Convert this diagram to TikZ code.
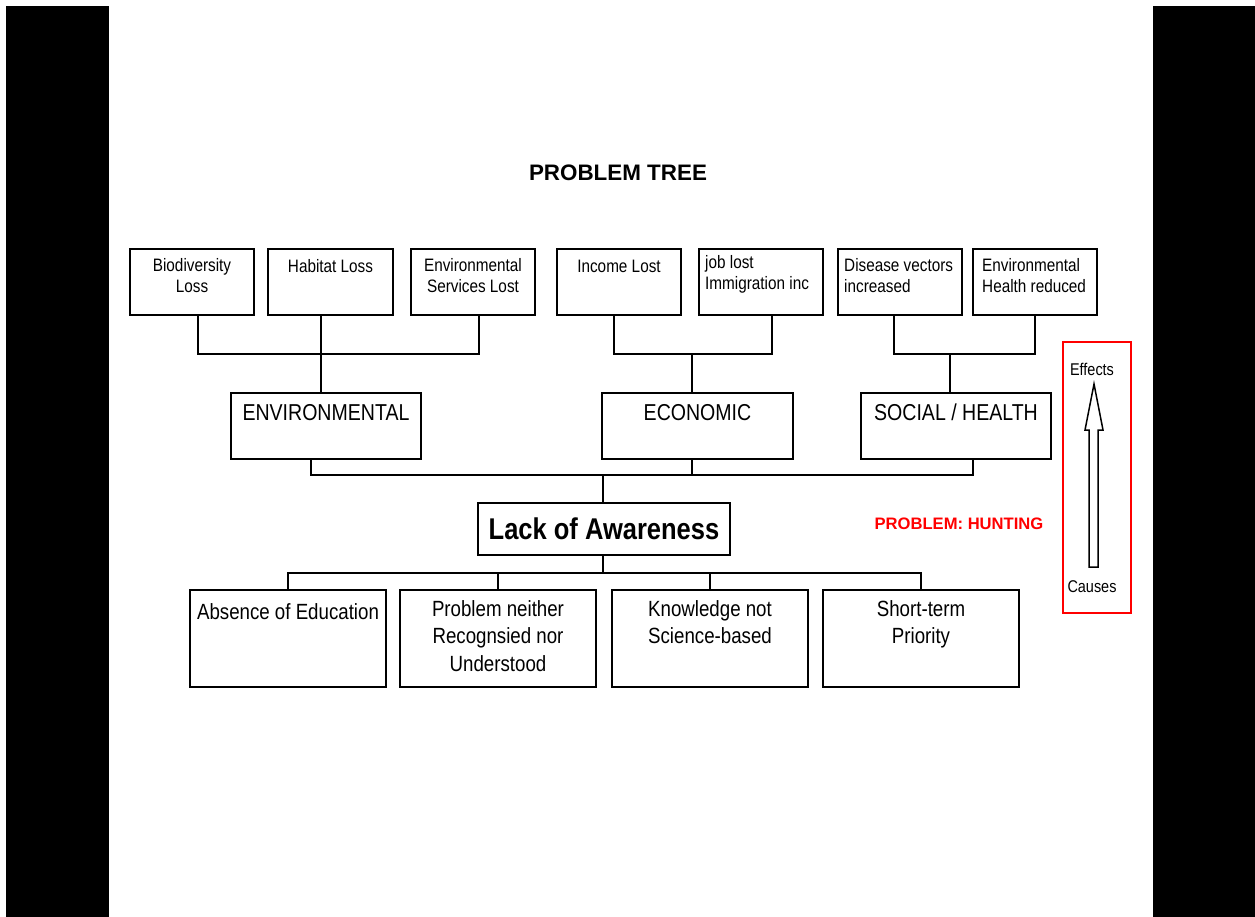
\documentclass[tikz,border=0pt]{standalone}
\usepackage{fontspec}
\setmainfont{Liberation Sans}
\newfontfamily\narrowfont{Liberation Sans}[FakeStretch=0.85]
\usepackage{tikz}
\usetikzlibrary{positioning}

\newcommand\toprowfont{\narrowfont\fontsize{18}{21}\selectfont}
\newcommand\midrowfont{\narrowfont\fontsize{23}{27}\selectfont}
\newcommand\lowrowfont{\narrowfont\fontsize{22}{27.5}\selectfont}

\tikzset{
  box/.style={draw, line width=2pt, inner sep=0pt},
  link/.style={line width=2pt},
  txt/.style={anchor=north, align=center, inner sep=0pt, execute at begin node=\strut},
  ltxt/.style={anchor=north west, align=left, inner sep=0pt, execute at begin node=\strut}
}

\begin{document}
\begin{tikzpicture}[x=1pt,y=-1pt]
\useasboundingbox (0,0) rectangle (1255,917);
\fill[white] (0,0) rectangle (1255,917);
\fill[black] (6,6) rectangle (109,917);
\fill[black] (1153,6) rectangle (1255,917);

\node[font=\bfseries\fontsize{22.4}{26}\selectfont] (title) at (618,173) {PROBLEM TREE};

% effects
\node[box, minimum width=124pt, minimum height=66pt] (bio) at (192,282) {};
\node[box, minimum width=125pt, minimum height=66pt] (hab) at (330.5,282) {};
\node[box, minimum width=124pt, minimum height=66pt] (envs) at (473,282) {};
\node[box, minimum width=124pt, minimum height=66pt] (inc) at (619,282) {};
\node[box, minimum width=124pt, minimum height=66pt] (job) at (761,282) {};
\node[box, minimum width=124pt, minimum height=66pt] (dis) at (900,282) {};
\node[box, minimum width=124pt, minimum height=66pt] (ehr) at (1035,282) {};

\node[txt, font=\toprowfont] (biot) at ([yshift=-10pt]bio.north) {Biodiversity\\Loss};
\node[txt, font=\toprowfont] (habt) at ([yshift=-10pt]hab.north) {Habitat Loss};
\node[txt, font=\toprowfont] (envst) at ([yshift=-10pt]envs.north) {Environmental\\Services Lost};
\node[txt, font=\toprowfont] (inct) at ([yshift=-10pt]inc.north) {Income Lost};
\node[ltxt, font=\toprowfont] (jobt) at ([xshift=7pt,yshift=-7pt]job.north west) {job lost\\Immigration inc};
\node[ltxt, font=\toprowfont] (dist) at ([xshift=7pt,yshift=-10pt]dis.north west) {Disease vectors\\increased};
\node[ltxt, font=\toprowfont] (ehrt) at ([xshift=10pt,yshift=-10pt]ehr.north west) {Environmental\\Health reduced};

\node[box, minimum width=190pt, minimum height=66pt] (env) at (326,426) {};
\node[box, minimum width=191pt, minimum height=66pt] (eco) at (697.5,426) {};
\node[box, minimum width=190pt, minimum height=66pt] (soc) at (956,426) {};
\node[txt, font=\midrowfont] (envt) at ([yshift=-9pt]env.north) {ENVIRONMENTAL};
\node[txt, font=\midrowfont] (ecot) at ([yshift=-9pt]eco.north) {ECONOMIC};
\node[txt, font=\midrowfont] (soct) at ([yshift=-9pt]soc.north) {SOCIAL / HEALTH};

\coordinate (envbar) at (321,354);
\coordinate (ecobar) at (692,354);
\coordinate (socbar) at (950,354);
\draw[link] ([xshift=6pt]bio.south) |- (envbar) -| ([xshift=6pt]envs.south);
\draw[link] (hab.south -| envbar) -- (env.north -| envbar);
\draw[link] ([xshift=-5pt]inc.south) |- (ecobar) -| ([xshift=11pt]job.south);
\draw[link] (ecobar) -- (eco.north -| ecobar);
\draw[link] ([xshift=-6pt]dis.south) |- (socbar) -| (ehr.south);
\draw[link] (socbar) -- (soc.north -| socbar);

% problem
\node[box, minimum width=252pt, minimum height=52pt,
  font=\narrowfont\bfseries\fontsize{30}{34}\selectfont] (lack) at (604,529) {Lack of Awareness};

\coordinate (midbar) at (603,475);
\draw[link] ([xshift=-15pt]env.south) |- (midbar) -| ([xshift=17pt]soc.south);
\draw[link] (eco.south -| ecobar) -- (midbar -| ecobar);
\draw[link] (midbar) -- (lack.north -| midbar);

% causes
\node[box, minimum width=196pt, minimum height=97pt] (abs) at (288,638.5) {};
\node[box, minimum width=196pt, minimum height=97pt] (prob) at (498,638.5) {};
\node[box, minimum width=196pt, minimum height=97pt] (know) at (710,638.5) {};
\node[box, minimum width=196pt, minimum height=97pt] (short) at (921,638.5) {};
\node[txt, font=\lowrowfont] (abst) at ([yshift=-11pt]abs.north) {Absence of Education};
\node[txt, font=\lowrowfont] (probt) at ([yshift=-11pt]prob.north) {Problem neither\\Recognsied nor\\Understood};
\node[txt, font=\lowrowfont] (knowt) at ([yshift=-11pt]know.north) {Knowledge not\\Science-based};
\node[txt, font=\lowrowfont] (shortt) at ([yshift=-11pt]short.north) {Short-term\\Priority};

\coordinate (lowbar) at (603,573);
\draw[link] (lack.south -| lowbar) -- (lowbar);
\draw[link] (abs.north) |- (lowbar) -| (short.north);
\draw[link] (prob.north) -- (prob.north |- lowbar);
\draw[link] (know.north) -- (know.north |- lowbar);

\node[text=red, font=\bfseries\fontsize{16.6}{20}\selectfont] (hunt) at (959,524) {PROBLEM: HUNTING};

% effects / causes arrow
\draw[red, line width=1.5pt] (1063,342) rectangle (1131,613);
\node[font=\narrowfont\fontsize{17}{20}\selectfont] (eff) at (1092,369) {Effects};
\node[font=\narrowfont\fontsize{17}{20}\selectfont] (cau) at (1092,587) {Causes};
\draw[line width=1.5pt, fill=white] (1094,384) -- (1103,430) -- (1098,430) -- (1098,567)
  -- (1089,567) -- (1089,430) -- (1085,430) -- cycle;
\end{tikzpicture}
\end{document}
